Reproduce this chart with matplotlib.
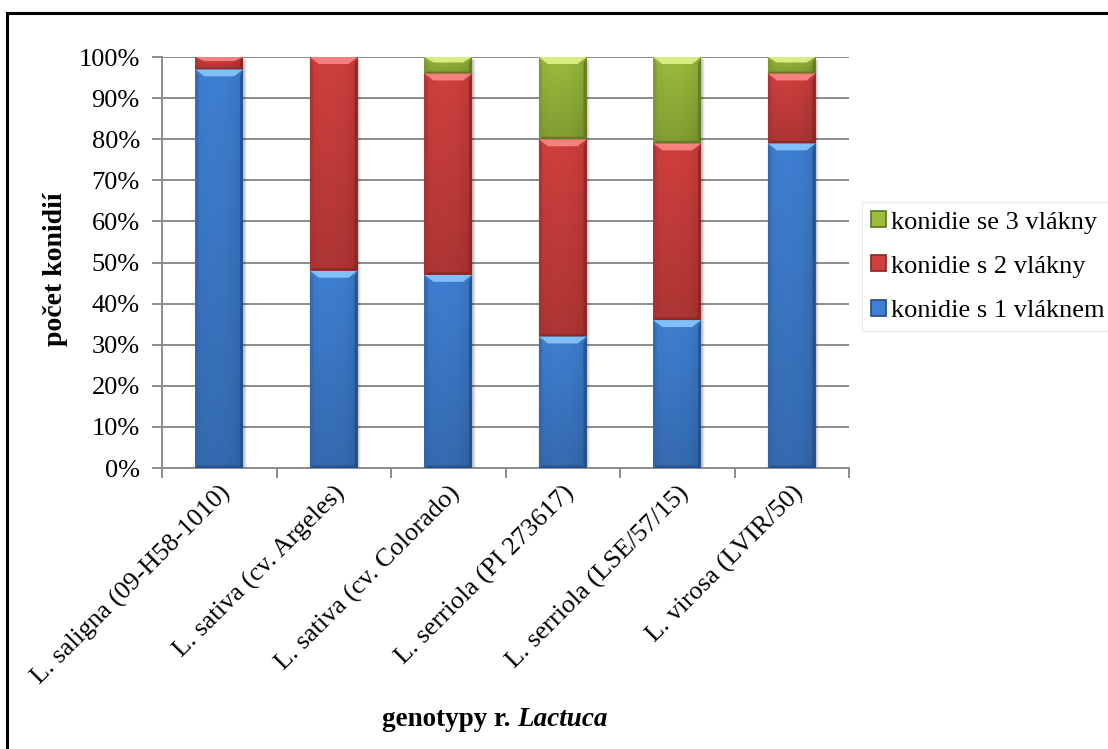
import numpy as np
import matplotlib
matplotlib.use("Agg")
import matplotlib.pyplot as plt
from matplotlib.patches import Rectangle, Polygon, Patch
from matplotlib.colors import to_rgb
from matplotlib.ticker import FixedLocator, PercentFormatter

plt.rcParams["font.family"] = ["Liberation Serif", "DejaVu Serif"]

# Data: share of conidia by number of germ tubes (%)
genotypes = [
    "L. saligna (09-H58-1010)",
    "L. sativa (cv. Argeles)",
    "L. sativa (cv. Colorado)",
    "L. serriola (PI 273617)",
    "L. serriola (LSE/57/15)",
    "L. virosa (LVIR/50)",
]
one_tube = [97, 48, 47, 32, 36, 79]
two_tubes = [3, 52, 49, 48, 43, 17]
three_tubes = [0, 0, 4, 20, 21, 4]
series_labels = ["konidie s 1 vláknem", "konidie s 2 vlákny", "konidie se 3 vlákny"]

# base / highlight / shade colours of each series
palette = [
    ("#3F80D3", "#8CCBFF", "#214C86"),
    ("#D0403E", "#FF8E8C", "#8A2322"),
    ("#9CBC3C", "#E2F88E", "#5B7520"),
]

W, H = 1108, 749
fig = plt.figure(figsize=(W / 100, H / 100), dpi=100)
ax = fig.add_axes([162 / W, 1 - 468 / H, (849 - 162) / W, (468 - 57) / H])

x = np.arange(len(genotypes))
bar_w = 0.417
grid_c = "#8C8C8C"
FS = 19

ax.set_xlim(-0.5, len(genotypes) - 0.5)
ax.set_ylim(0, 100)
ax.yaxis.set_major_locator(FixedLocator(np.arange(0, 101, 10)))
ax.yaxis.set_major_formatter(PercentFormatter(decimals=0))
ax.grid(axis="y", color=grid_c, linewidth=1.4, zorder=0)
ax.set_axisbelow(True)
for s in ("top", "right"):
    ax.spines[s].set_visible(False)
for s in ("left", "bottom"):
    ax.spines[s].set_color(grid_c)
    ax.spines[s].set_linewidth(1.4)

# px -> data conversions for decoration sizes
px_x = (len(genotypes)) / (849 - 162)
px_y = 100 / (468 - 57)


def shade(rgb, f):
    return tuple(np.clip(np.array(rgb) * f, 0, 1))


def decorate(patch, base, light, dark):
    x0, y0 = patch.get_x(), patch.get_y()
    w, h = patch.get_width(), patch.get_height()
    if h <= 0:
        return
    b = np.array(to_rgb(base))
    # horizontal profile: darker rims, slightly brighter body
    u = np.linspace(0, 1, 64)
    fx = 0.92 + 0.1 * np.sin(np.pi * u) ** 0.5 - 0.06 * u
    v = np.linspace(0, 1, 32)[:, None]  # 0 = bottom, 1 = top
    fy = 0.84 + 0.16 * v
    img = np.clip(b[None, None, :] * (fx[None, :, None] * fy[:, :, None]), 0, 1)
    im = ax.imshow(img, extent=(x0, x0 + w, y0, y0 + h), origin="lower",
                   aspect="auto", interpolation="bilinear", zorder=3)
    im.set_clip_path(patch)
    bx = min(9 * px_x, w / 3)
    by = min(7 * px_y, h / 3)
    top = y0 + h
    # top bevel
    ax.add_patch(Polygon([(x0, top), (x0 + w, top), (x0 + w - bx, top - by), (x0 + bx, top - by)],
                         closed=True, facecolor=light, edgecolor="none", alpha=0.85, zorder=4))
    # side and bottom bevels
    ax.add_patch(Polygon([(x0, y0), (x0 + bx * 0.35, y0 + by * 0.35), (x0 + bx * 0.35, top - by), (x0, top)],
                         closed=True, facecolor=shade(b, 0.8), edgecolor="none", alpha=0.7, zorder=4))
    ax.add_patch(Polygon([(x0 + w, y0), (x0 + w - bx * 0.35, y0 + by * 0.35), (x0 + w - bx * 0.35, top - by), (x0 + w, top)],
                         closed=True, facecolor=dark, edgecolor="none", alpha=0.75, zorder=4))
    ax.add_patch(Polygon([(x0, y0), (x0 + w, y0), (x0 + w - bx * 0.35, y0 + by * 0.35), (x0 + bx * 0.35, y0 + by * 0.35)],
                         closed=True, facecolor=dark, edgecolor="none", alpha=0.8, zorder=4))


# soft drop shadow behind each column
totals = np.array(one_tube) + np.array(two_tubes) + np.array(three_tubes)
for k, a in enumerate([0.10, 0.07, 0.04]):
    off = (k + 1.5)
    ax.bar(x + off * px_x, totals, bar_w, bottom=-off * px_y, color="black",
           alpha=a, zorder=2, linewidth=0)

bottom = np.zeros(len(genotypes))
for vals, (base, light, dark) in zip([one_tube, two_tubes, three_tubes], palette):
    vals = np.array(vals, dtype=float)
    bars = ax.bar(x, vals, bar_w, bottom=bottom, color=base, linewidth=0, zorder=2.5)
    for p in bars.patches:
        decorate(p, base, light, dark)
    bottom += vals

# ticks
ax.set_xticks(x)
ax.set_xticklabels(genotypes, rotation=45, ha="right", rotation_mode="anchor",
                   fontsize=FS)
ax.tick_params(axis="x", length=0, pad=10)
ax.set_xticks(np.arange(-0.5, len(genotypes)), minor=True)
ax.tick_params(axis="x", which="minor", length=7, width=1.4, color=grid_c, direction="out")
ax.tick_params(axis="y", length=7, width=1.4, color=grid_c, labelsize=FS, pad=9)

# axis titles
fig.text(55 / W, 1 - 269 / H, "počet konidií", rotation=90, ha="center", va="center",
         fontsize=20, fontweight="bold")
t1 = fig.text(0, 1 - 720 / H, "genotypy r. ", ha="left", va="center", fontsize=19.5,
              fontweight="bold")
t2 = fig.text(0, 1 - 720 / H, "Lactuca", ha="left", va="center", fontsize=19.5,
              fontweight="bold", style="italic")
r = fig.canvas.get_renderer()
w1 = t1.get_window_extent(r).width
w2 = t2.get_window_extent(r).width
start = 495 - (w1 + w2) / 2
t1.set_x(start / W)
t2.set_x((start + w1) / W)

# legend (top entry = top series)
handles = [Patch(facecolor=palette[i][0], edgecolor=palette[i][2], linewidth=1.2)
           for i in (2, 1, 0)]
labels = [series_labels[i] for i in (2, 1, 0)]
leg = fig.legend(handles, labels, loc="upper left", bbox_to_anchor=(862 / W, 1 - 202 / H),
                 frameon=True, fontsize=FS, handlelength=0.55, handleheight=0.55,
                 handletextpad=0.2, labelspacing=0.83, borderpad=0.35, borderaxespad=0,
                 fancybox=False)
leg.get_frame().set_edgecolor("#E6E6E6")
leg.get_frame().set_linewidth(1.0)

# chart border
fig.add_artist(Rectangle((7 / W, -0.1), 1.2, (1 - 13 / H) + 0.1, transform=fig.transFigure,
                         fill=False, edgecolor="black", linewidth=2.2))

fig.savefig("out.png", dpi=100)
